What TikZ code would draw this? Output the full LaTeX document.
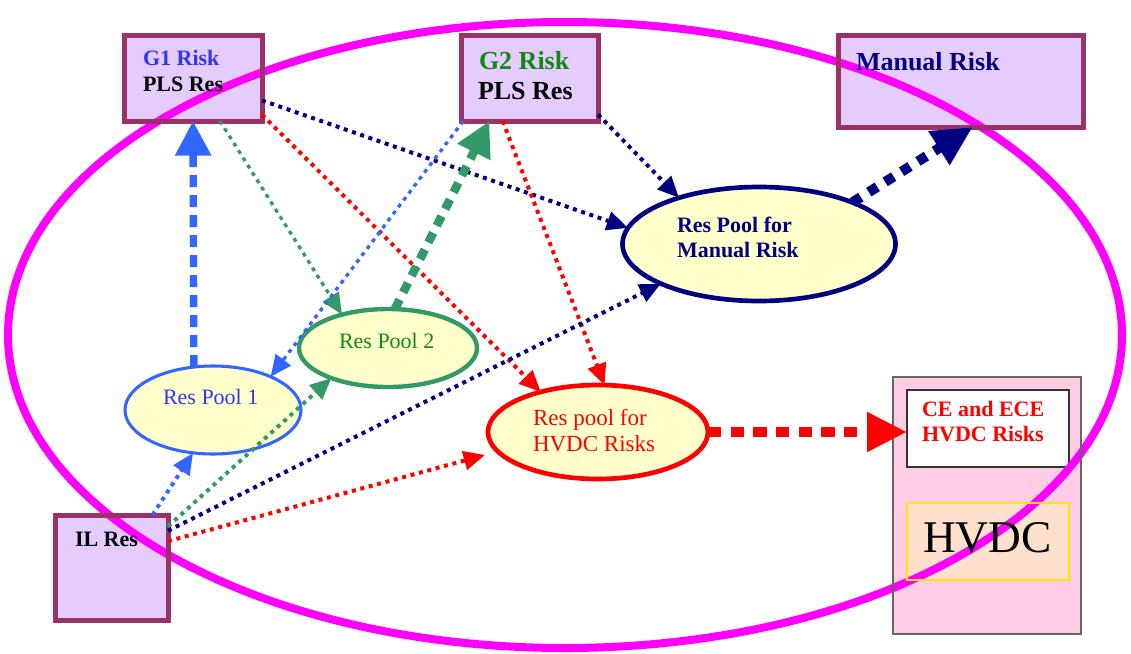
\documentclass[tikz,border=0pt]{standalone}
\usepackage{fontspec}
\setmainfont{Liberation Serif}
\usetikzlibrary{arrows.meta,shapes.geometric}
\definecolor{mag}{HTML}{FF00FF}
\definecolor{boxborder}{HTML}{993366}
\definecolor{boxfill}{HTML}{E5CCFF}
\definecolor{poolfill}{HTML}{FFFFCC}
\definecolor{arblue}{HTML}{3366FF}
\definecolor{argreen}{HTML}{339966}
\definecolor{txtblue}{HTML}{3333FF}
\definecolor{txtgreen}{HTML}{108A10}
\definecolor{navy}{HTML}{000080}
\definecolor{pinkpanel}{HTML}{FFCCE6}
\definecolor{peach}{HTML}{FFE0CC}
\tikzset{
  box/.style={rectangle, fill=boxfill, inner sep=0pt, outer sep=0pt},
  boxedge/.style={draw=boxborder, line width=3.75pt},
  pool/.style={ellipse, fill=poolfill, inner sep=0pt, outer sep=0pt},
  thinarr/.style={line width=3pt, dash pattern=on 3pt off 3.5pt, -{Triangle[length=16pt,width=14pt]}},
  thickarr/.style={line width=6pt, dash pattern=on 8pt off 6pt, -{Triangle[length=26pt,width=26pt]}},
  txt/.style={anchor=base west, inner sep=0pt, outer sep=0pt},
  bigtxt/.style={txt, font=\fontsize{19.5}{22}\selectfont\bfseries},
  midbold/.style={txt, font=\fontsize{16.5}{19}\selectfont\bfseries},
  midreg/.style={txt, font=\fontsize{16.5}{19}\selectfont},
}
\begin{document}
\begin{tikzpicture}[x=0.75pt,y=-0.75pt]
\useasboundingbox (0,0) rectangle (1131,653);
% box fills
\node[box, minimum width=103.5pt, minimum height=64.5pt] (g1) at (193,78) {};
\node[box, minimum width=102.75pt, minimum height=64.5pt] (g2) at (529.5,78) {};
\node[box, minimum width=183.75pt, minimum height=69pt] (mr) at (960.5,81) {};
\node[box, minimum width=84.75pt, minimum height=78.75pt] (il) at (111.5,567.5) {};
\node[rectangle, fill=pinkpanel, inner sep=0pt, outer sep=0pt, minimum width=141pt, minimum height=192.75pt] (hv) at (987,505.5) {};
\node[rectangle, fill=white, draw=black!80, line width=0.8pt, inner sep=0pt, outer sep=0pt, minimum width=121.5pt, minimum height=57.75pt] (ce) at (988,428.5) {};
\node[rectangle, fill=peach, inner sep=0pt, outer sep=0pt, minimum width=121.5pt, minimum height=57.75pt] (hb) at (988,541.5) {};
% big magenta ring, over the box fills
\draw[mag, line width=6pt] (565,335) ellipse [x radius=557, y radius=313];
% box borders
\draw[boxedge] (g1.south west) rectangle (g1.north east);
\draw[boxedge] (g2.south west) rectangle (g2.north east);
\draw[boxedge] (mr.south west) rectangle (mr.north east);
\draw[boxedge] (il.south west) rectangle (il.north east);
\draw[draw=black!60, line width=1pt] (hv.south west) rectangle (hv.north east);
\draw[draw=yellow!90!orange, line width=1pt] (hb.south west) rectangle (hb.north east);
% pools
\node[pool, draw=arblue, line width=2.3pt, minimum width=132pt, minimum height=66pt] (rp1) at (213,410) {};
\node[pool, draw=argreen, line width=3.3pt, minimum width=133.5pt, minimum height=58.5pt] (rp2) at (388,348) {};
\node[pool, draw=navy, line width=3.5pt, minimum width=204.75pt, minimum height=85.5pt] (rpm) at (759,244) {};
\node[pool, draw=red, line width=3.5pt, minimum width=165pt, minimum height=70.5pt] (rph) at (598,432) {};
% connectors
\draw[thickarr, arblue, line width=5.5pt, dash pattern=on 9pt off 6pt] (rp1.114) -- (g1.south);
\draw[thinarr, argreen, line width=2.5pt] (g1.-58) -- (rp2.144);
\draw[thinarr, red] (g1.-28) -- (rph.145);
\draw[thinarr, navy] (g1.-18) -- (rpm.173);
\draw[thinarr, arblue, line width=2.5pt] (g2.213) -- (rp1.30);
\draw[thickarr, argreen, line width=6.5pt] (rp2.80) -- (g2.-133);
\draw[thinarr, red] (g2.-122) -- (rph.82);
\draw[thinarr, navy] (g2.-28) -- (rpm.150);
\draw[thickarr, navy, line width=7.5pt, dash pattern=on 7.5pt off 7pt, -{Triangle[length=30pt,width=28pt]}] (rpm.24) -- (mr.-75);
\draw[thickarr, red, line width=7.5pt, dash pattern=on 10pt off 7pt, -{Triangle[length=30pt,width=28pt]}] (rph.east) -- (rph.east -| ce.west);
\draw[thinarr, arblue] (il.52) -- (rp1.245);
\draw[thinarr, argreen] (il.36) -- (rp2.208);
\draw[thinarr, navy] (il.33) -- (rpm.202);
\draw[thinarr, red, shorten >=10pt] (il.25) -- (rph.191);
% texts
\node[midbold, txtblue] (g1a) at (143,65) {G1 Risk};
\node[midbold, black] (g1b) at (143,91) {PLS Res};
\node[bigtxt, txtgreen] (g2a) at (479,69) {G2 Risk};
\node[bigtxt, black] (g2b) at (478,99) {PLS Res};
\node[bigtxt, navy] (mrt) at (856,70) {Manual Risk};
\node[midbold, black] (ilt) at (75,546) {IL Res};
\node[midreg, txtblue] (rp1t) at (163,404) {Res Pool 1};
\node[midreg, txtgreen] (rp2t) at (339,348) {Res Pool 2};
\node[midbold, navy] (rpma) at (677,232) {Res Pool for};
\node[midbold, navy] (rpmb) at (677,257) {Manual Risk};
\node[txt, red, font=\fontsize{17.25}{20}\selectfont] (rpha) at (533,425) {Res pool for};
\node[txt, red, font=\fontsize{17.25}{20}\selectfont] (rphb) at (533,451) {HVDC Risks};
\node[midbold, red] (cea) at (922,416) {CE and ECE};
\node[midbold, red] (ceb) at (922,441) {HVDC Risks};
\node[txt, black, font=\fontsize{34}{38}\selectfont] (hbt) at (923,552) {HVDC};
\end{tikzpicture}
\end{document}
